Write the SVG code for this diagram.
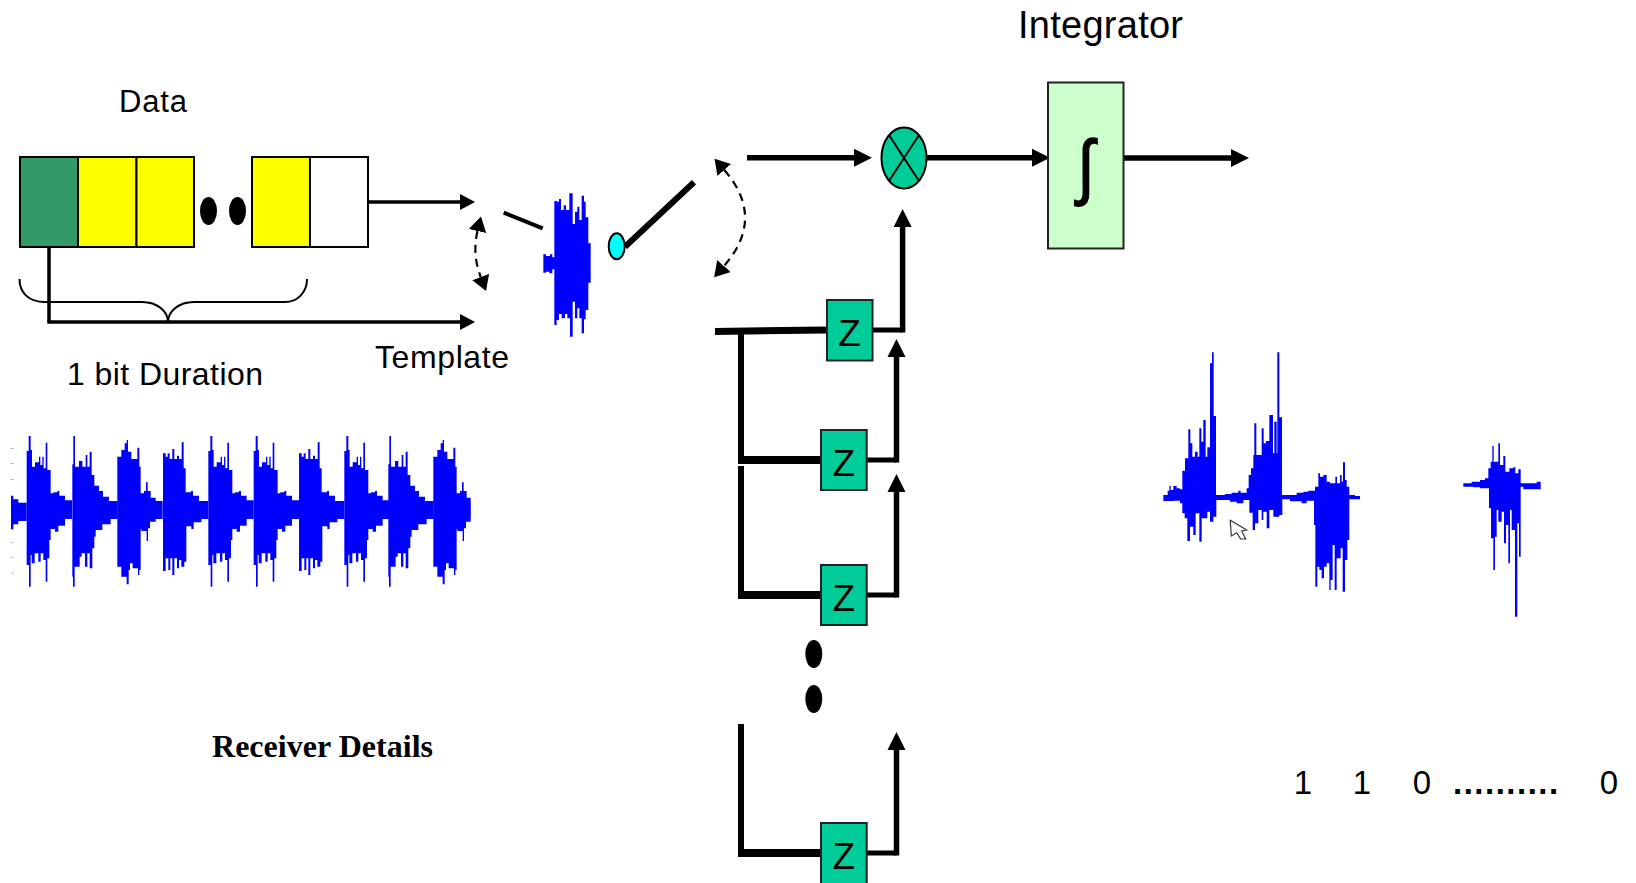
<svg xmlns="http://www.w3.org/2000/svg" xmlns:xlink="http://www.w3.org/1999/xlink" width="1636" height="883" viewBox="0 0 1636 883">
<style>
.t{font-family:"Liberation Sans",Arial,sans-serif;fill:#000}
.cell{stroke:#000;stroke-width:2}
.zb{fill:#00CC99;stroke:#222;stroke-width:2}
.zt{font-family:"Liberation Sans",Arial,sans-serif;font-size:37px;text-anchor:middle;fill:#000}
.c{fill:none;stroke:#000}
.w{fill:#0000FF;stroke:none}
.a3{stroke-width:3.5;marker-end:url(#hs)}
.a5{stroke-width:5.5;marker-end:url(#hl)}
.d{stroke-width:2.200;stroke-dasharray:8 6;marker-start:url(#hd);marker-end:url(#hd)}
</style>
<defs>
<clipPath id="wclip"><rect x="0" y="0" width="1412" height="540"/></clipPath>
<marker id="hs" markerUnits="userSpaceOnUse" markerWidth="18" markerHeight="20" refX="0" refY="10" orient="auto"><path d="M0,2L15,10L0,18Z" fill="#000"/></marker>
<marker id="hl" markerUnits="userSpaceOnUse" markerWidth="20" markerHeight="22" refX="0" refY="11" orient="auto"><path d="M0,2L18,11L0,20Z" fill="#000"/></marker>
<marker id="hd" markerUnits="userSpaceOnUse" markerWidth="18" markerHeight="20" refX="0" refY="10" orient="auto-start-reverse"><path d="M0,1L15,10L0,19Z" fill="#000"/></marker>
<path id="bA" d="M0,-22V-182H6V-227H12V-185H16V-135H25V-148H37V-165H41V-140H47V-165H51V-130H57V-207H62V-125H72V-55H80V-58H92V-62H98V-48H115V-34H136V-22V22H115V42H95V60H85V52H72V85H68V140H62V210H57V145H50V125H42V150H35V125H24V155H15V130H12V225H7V160H0Z"/>
<path id="bC" d="M0,-22V-142H3V-227H8V-135H20V-152H30V-135H40V-170H45V-135H52V-180H58V-110H66V-78H80V-62H92V-45H110V-32H136V-22V22H115V38H90V55H70V75H66V110H60V170H52V125H45V165H38V125H28V135H22V165H7V225H2V195H0Z"/>
<path id="bB" d="M0,-22V-165H12V-185H22V-205H28V-215H32V-180H42V-158H60V-192H66V-135H70V-55H80V-62H86V-88H91V-62H100V-42H115V-32H136V-22V22H115V30H98V50H92V88H88V58H72V52H70V175H66V190H62V170H46V155H38V175H34V218H28V195H12V165H0Z"/>
<path id="bD" d="M0,-22V-175H8V-165H14V-175H20V-158H28V-188H34V-158H42V-168H48V-158H56V-208H62V-130H68V-58H84V-62H90V-48H108V-32H136V-22V22H115V32H92V52H85V44H70V150H64V165H55V145H48V170H42V140H34V190H28V140H22V175H16V140H8V178H0Z"/>
</defs>

<g id="waveform-data" class="w" transform="translate(0 421) scale(.33333)" clip-path="url(#wclip)">
<path d="M33,272V224H40V235H55V245H80V300H55V310H40V325H33Z"/>
<g transform="translate(80 272)"><use xlink:href="#bA"/></g>
<g transform="translate(217 272)"><use xlink:href="#bC"/></g>
<g transform="translate(352 272)"><use xlink:href="#bB"/></g>
<g transform="translate(489 272)"><use xlink:href="#bD"/></g>
<g transform="translate(625 272)"><use xlink:href="#bA"/></g>
<g transform="translate(761 272)"><use xlink:href="#bA"/></g>
<g transform="translate(897 272)"><use xlink:href="#bD"/></g>
<g transform="translate(1033 272)"><use xlink:href="#bA"/></g>
<g transform="translate(1165 272)"><use xlink:href="#bC"/></g>
<g transform="translate(1300 272)"><use xlink:href="#bB"/></g>
<path d="M1370,272V235H1385V240H1400V245H1412V290H1400V300H1385V305H1370Z"/>
</g>
<path d="M11,448.500h3M11,463.500h3M11,479.500h3M11,542.500h3M11,557.500h3M11,573h3" stroke="#bbb" stroke-width="1" fill="none"/>

<g id="waveform-template" class="w" transform="translate(460 130) scale(.33333)">
<path d="M250,373H258V378H270V373H277V382H283V213H291V215H297V207H303V240H311V226H318V240H328V190H338V282H345V245H352V230H358V270H365V197H372V215H377V262H385V340H392V458H385V540H377V568H372V610H365V565H358V535H352V565H345V515H338V620H330V565H322V552H315V565H305V552H297V570H290V585H283V418H277V430H268V425H258V428H250Z"/>
</g>

<g id="waveform-output-a" class="w" transform="translate(1150 340) scale(.33333)">
<path d="M40,465H53V452H58V437H62V450H70V438H80V445H90V448H97V392H105V355H115V268H121V310H127V350H135V335H143V350H148V265H154V305H160V240H167V350H172V322H180V70H186V37H191V228H198V465H225V462H245V458H265V452H272V458H290V445H296V405H303V385H310V345H313V250H319V345H335V265H341V310H348V303H358V225H369V340H373V245H380V340H382V37H388V232H396V465H440V458H460V455H475V452H495V440H505V400H510V410H520V405H530V425H540V430H556V410H561V430H570V405H575V425H579V367H585V420H590V440H598V465H615V468H630V478H598V600H592V660H585V755H578V625H572V655H560V750H554V615H548V720H542V750H538V670H530V680H522V715H515V690H508V680H502V740H496V555H492V482H470V490H455V484H420V478H397V525H388V530H370V510H358V565H350V515H340V540H335V510H325V550H315V570H308V518H298V480H280V490H260V485H240V480H199V530H190V545H180V515H172V535H155V605H148V520H137V585H130V560H120V603H112V535H104V520H97V490H90V482H70V483H40Z"/>
</g>
<g id="waveform-output-b" class="w" transform="translate(1280 430) scale(.33333)">
<path d="M550,160H575V155H600V150H615V145H625V115H632V95H637V48H641V95H655V40H660V105H670V78H676V125H688V115H700V112H706V130H715V118H722V160H770V155H782V178H730V170H722V380H717V280H712V560H705V300H695V240H690V400H685V285H678V340H672V245H665V275H655V240H650V320H645V420H640V325H633V235H627V175H600V172H580V170H550Z"/>
</g>
<path id="cursor" d="M1230.300,520.300L1246.700,530L1241.700,531L1245.700,539L1240.700,539L1236.700,532.700L1231.300,536Z" fill="#fff" stroke="#333" stroke-width="1.200"/>

<g id="data-register">
<rect class="cell" x="20" y="157" width="58" height="90" fill="#339966"/>
<rect class="cell" x="78" y="157" width="58.500" height="90" fill="#FFFF00"/>
<rect class="cell" x="136.500" y="157" width="57.500" height="90" fill="#FFFF00"/>
<ellipse cx="208.500" cy="211" rx="8.500" ry="14" fill="#000"/>
<ellipse cx="237.500" cy="211" rx="8.500" ry="14" fill="#000"/>
<rect class="cell" x="252" y="157" width="58" height="90" fill="#FFFF00"/>
<rect class="cell" x="310" y="157" width="58" height="90" fill="#fff"/>
</g>

<g id="connectors">
<path class="c a3" d="M368,202H460"/>
<path class="c" stroke-width="3.500" d="M49,247V322"/>
<path class="c a3" d="M47.300,322H460"/>
<path class="c" stroke-width="2" d="M19.500,279C19.500,292 28,302 45,302H142C158,302 168,312 168,322C168,312 178,302 194,302H285C298,302 307,292 307,279"/>
<path class="c d" d="M477.500,231Q472,254 480.700,277"/>
<path class="c" stroke-width="4" d="M503.700,212.700L542.700,228.300"/>
<path class="c" stroke-width="6" d="M625,246.700L694,182.300"/>
<path class="c d" d="M724.300,170Q766,218 724,266"/>
<path class="c a5" d="M747,157.700H854"/>
<path class="c a5" d="M927,157.700H1032"/>
<path class="c a5" d="M1124,158H1231"/>
<path class="c" stroke-width="7" d="M715,331.500L826,330"/>
<path class="c" stroke-width="5" d="M873,330H902.600"/>
<path class="c a5" d="M902.600,332.500V227"/>
<path class="c" stroke-width="6" d="M741,331V462"/>
<path class="c" stroke-width="8" d="M738,460H821"/>
<path class="c" stroke-width="5" d="M867,460H896.500"/>
<path class="c a5" d="M896.500,462.500V357"/>
<path class="c" stroke-width="6" d="M741,466V597"/>
<path class="c" stroke-width="8" d="M738,595H821"/>
<path class="c" stroke-width="5" d="M867,595H896.500"/>
<path class="c a5" d="M896.500,597.500V492"/>
<path class="c" stroke-width="6" d="M741,724V855"/>
<path class="c" stroke-width="8" d="M738,853H821"/>
<path class="c" stroke-width="5" d="M867,853H896.500"/>
<path class="c a5" d="M896.500,855.500V750"/>
</g>

<g id="switch-contact"><ellipse cx="616.700" cy="246.300" rx="8" ry="13" fill="#00FFFF" stroke="#000" stroke-width="2"/></g>

<g id="mixer">
<ellipse cx="904" cy="158" rx="22.500" ry="30.500" fill="#00CC99" stroke="#000" stroke-width="2"/>
<path class="c" stroke-width="2" d="M889,135L919,181M919,135L889,181"/>
</g>

<g id="integrator">
<rect x="1048" y="82.500" width="75.500" height="166" fill="#CCFFCC" stroke="#222" stroke-width="2"/>
<text transform="translate(1086 191) scale(.85 1)" x="0" y="0" font-family="'Liberation Sans',Arial,sans-serif" font-size="72" text-anchor="middle" fill="#000" stroke="#000" stroke-width="1.500">∫</text>
</g>

<g id="z1"><rect class="zb" x="827" y="300" width="45.500" height="60.500"/><text class="zt" x="849.500" y="346">Z</text></g>
<g id="z2"><rect class="zb" x="821" y="430" width="45.700" height="60"/><text class="zt" x="843.700" y="476">Z</text></g>
<g id="z3"><rect class="zb" x="821" y="565" width="45.700" height="60"/><text class="zt" x="843.700" y="611">Z</text></g>
<g id="z4"><rect class="zb" x="821" y="823" width="45.700" height="70"/><text class="zt" x="843.700" y="869">Z</text></g>

<g id="ellipsis-dots">
<ellipse cx="813.800" cy="654" rx="8.500" ry="14" fill="#000"/>
<ellipse cx="813.800" cy="699" rx="8.500" ry="14" fill="#000"/>
</g>

<g id="labels">
<text class="t" x="119" y="112" font-size="31" textLength="68">Data</text>
<text class="t" x="67" y="385" font-size="32" textLength="196">1 bit Duration</text>
<text class="t" x="375" y="368" font-size="32" textLength="134">Template</text>
<text class="t" x="1018" y="38" font-size="38" textLength="165">Integrator</text>
<text x="212" y="757" font-family="'Liberation Serif','Times New Roman',serif" font-weight="bold" font-size="32" fill="#000" textLength="221">Receiver Details</text>
<text class="t" x="1303" y="794" font-size="33" text-anchor="middle">1</text>
<text class="t" x="1362" y="794" font-size="33" text-anchor="middle">1</text>
<text class="t" x="1422" y="794" font-size="33" text-anchor="middle">0</text>
<text class="t" x="1453" y="794" font-size="33" font-weight="bold" letter-spacing="1.500">..........</text>
<text class="t" x="1609" y="794" font-size="33" text-anchor="middle">0</text>
</g>
</svg>
